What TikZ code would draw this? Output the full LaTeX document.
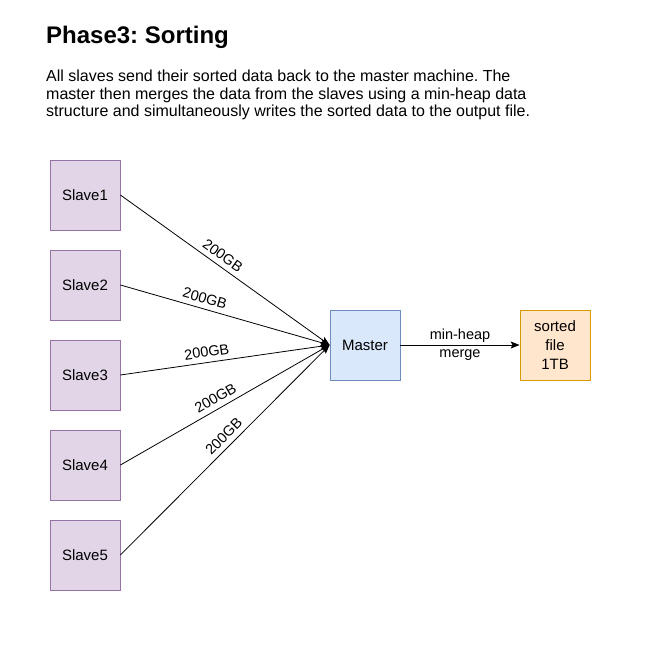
\documentclass[tikz,border=0pt]{standalone}
\usepackage{fontspec}
\setmainfont{Liberation Sans}
\usetikzlibrary{arrows.meta}
\definecolor{slavefill}{HTML}{E1D5E7}
\definecolor{slavedraw}{HTML}{9673A6}
\definecolor{masterfill}{HTML}{DAE8FC}
\definecolor{masterdraw}{HTML}{6C8EBF}
\definecolor{filefill}{HTML}{FFE6CC}
\definecolor{filedraw}{HTML}{D79B00}
\frenchspacing
\begin{document}
\begin{tikzpicture}[x=1pt,y=-1pt,
  box/.style={minimum width=70pt,minimum height=70pt,inner sep=0pt,line width=0.8pt,
    font=\fontsize{15}{19}\selectfont,align=center},
  slavebox/.style={box,fill=slavefill,draw=slavedraw},
  masterbox/.style={box,fill=masterfill,draw=masterdraw},
  filebox/.style={box,fill=filefill,draw=filedraw},
  conn/.style={line width=0.8pt,-{Stealth[length=9pt,width=7pt,inset=2pt]}},
  elabel/.style={font=\fontsize{14.5}{18}\selectfont,sloped,inner sep=1pt,above=4pt},
  desc/.style={anchor=base west,inner sep=0pt,font=\fontsize{16}{18}\selectfont}]
\useasboundingbox[fill=white] (0,0) rectangle (650,650);

\node[anchor=base west,inner sep=0pt,font=\fontsize{24}{28}\bfseries] (title) at (46,44) {Phase3: Sorting};
\node[desc] (d1) at (46,82) {All slaves send their sorted data back to the master machine. The};
\node[desc] (d2) at (46,99.5) {master then merges the data from the slaves using a min-heap data};
\node[desc] (d3) at (46,117) {structure and simultaneously writes the sorted data to the output file.};

\node[slavebox] (s1) at (85,195) {Slave1};
\node[slavebox] (s2) at (85,285) {Slave2};
\node[slavebox] (s3) at (85,375) {Slave3};
\node[slavebox] (s4) at (85,465) {Slave4};
\node[slavebox] (s5) at (85,555) {Slave5};
\node[masterbox] (m) at (365,345) {Master};
\node[filebox] (f) at (555,345) {sorted\\file\\1TB};

\draw[conn] (s1.east) -- node[elabel,pos=.46] {200GB} (m.west);
\draw[conn] (s2.east) -- node[elabel,pos=.39] {200GB} (m.west);
\draw[conn] (s3.east) -- node[elabel,pos=.42] {200GB} (m.west);
\draw[conn] (s4.east) -- node[elabel,pos=.48] {200GB} (m.west);
\draw[conn] (s5.east) -- node[elabel,pos=.53] {200GB} (m.west);
\draw[conn] (m.east) -- node[font=\fontsize{14.5}{18}\selectfont,align=center,inner sep=0pt] {min-heap\\merge} (f.west);
\end{tikzpicture}
\end{document}
